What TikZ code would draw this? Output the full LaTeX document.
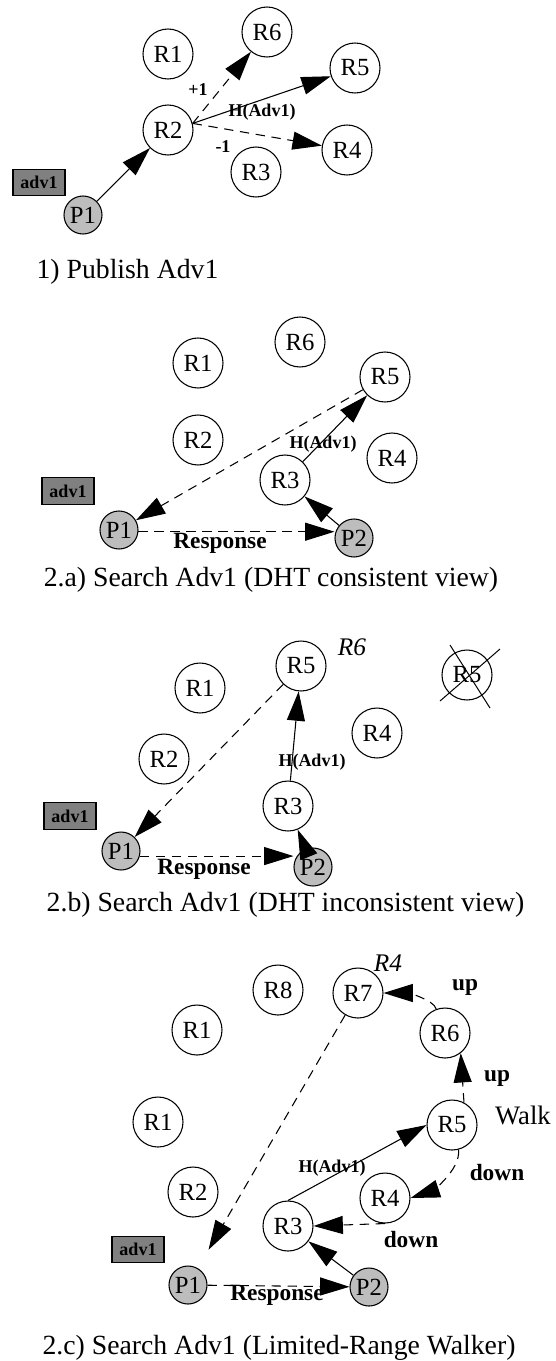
\documentclass[tikz,border=0pt]{standalone}
\usepackage{fontspec}
\setmainfont{Liberation Serif}
\usepackage{tikz}
\usetikzlibrary{arrows.meta}
\definecolor{peer}{HTML}{BDBDBD}
\definecolor{advgray}{HTML}{808080}

\begin{document}
\begin{tikzpicture}[yscale=-1, x=0.75pt, y=0.75pt,
  rnode/.style={circle, draw, line width=0.8pt, minimum size=37.5pt, inner sep=0pt, font=\fontsize{18.5}{20}\selectfont},
  pnode/.style={rnode, fill=peer, minimum size=28.5pt},
  advbox/.style={draw, line width=0.8pt, fill=advgray, minimum width=39pt, minimum height=20pt, inner sep=0pt, font=\fontsize{13.5}{15}\selectfont\bfseries},
  elbl/.style={font=\fontsize{13.5}{15}\selectfont\bfseries, inner sep=0pt},
  wlbl/.style={font=\fontsize{17.5}{19}\selectfont\bfseries, inner sep=0pt},
  ilbl/.style={font=\fontsize{19}{21}\selectfont\itshape, inner sep=0pt},
  caption/.style={font=\fontsize{20.8}{23}\selectfont, inner sep=0pt},
  hop/.style={-{Triangle[length=22pt,width=13.5pt]}, line width=0.8pt},
  dhop/.style={hop, dash pattern=on 7pt off 5pt}]
\useasboundingbox (0,0) rectangle (556,1361);

% 1) publish
\node[rnode] (pR1) at (168,54) {R1};
\node[rnode] (pR6) at (267,32) {R6};
\node[rnode] (pR5) at (355,68) {R5};
\node[rnode] (pR2) at (168,130) {R2};
\node[rnode] (pR4) at (347,150) {R4};
\node[rnode] (pR3) at (256,172) {R3};
\node[advbox] (pAdv) at (39,182.5) {adv1};
\node[pnode] (pP1) at (83,215) {P1};
\draw[hop] (pP1) -- (pR2);
\draw[dhop] (pR2.15) -- (pR6);
\draw[hop] (pR2.15) -- (pR5);
\draw[dhop] (pR2.15) -- (pR4);
\node[elbl] (pPlus) at (198,90) {+1};
\node[elbl] (pHash) at (262,112) {H(Adv1)};
\node[elbl] (pMinus) at (223,147) {-1};
\node[caption] (pCap) at (127.5,272) {1) Publish Adv1};

% 2.a) consistent view
\node[rnode] (cR6) at (300,342) {R6};
\node[rnode] (cR1) at (198,363) {R1};
\node[rnode] (cR5) at (385,377) {R5};
\node[rnode] (cR2) at (198,440) {R2};
\node[rnode] (cR4) at (392,458) {R4};
\node[rnode] (cR3) at (285,480) {R3};
\node[advbox] (cAdv) at (68,491) {adv1};
\node[pnode] (cP1) at (119,530) {P1};
\node[pnode] (cP2) at (354,538) {P2};
\draw[hop] (cP2) -- (cR3);
\draw[hop] (cR3) -- (cR5);
\draw[dhop] (cR5) -- (cP1);
\draw[dhop] (cP1.-5) -- (cP1.-5 -| cP2.west);
\node[elbl] (cHash) at (323,444) {H(Adv1)};
\node[wlbl] (cResp) at (220,543) {Response};
\node[caption] (cCap) at (271,580) {2.a) Search Adv1 (DHT consistent view)};

% 2.b) inconsistent view
\node[rnode] (iR5) at (301,666) {R5};
\node[ilbl] (iR6lbl) at (352,647) {R6};
\node[rnode] (iR1) at (200,688) {R1};
\node[rnode] (iGone) at (467,675) {R5};
\draw[line width=0.75pt] (450,645) -- (490,708) (440,701) -- (500,649);
\node[rnode] (iR4) at (377,733) {R4};
\node[rnode] (iR2) at (164,759) {R2};
\node[rnode] (iR3) at (288,806) {R3};
\node[advbox] (iAdv) at (70,816) {adv1};
\node[pnode] (iP1) at (121,851) {P1};
\node[pnode] (iP2) at (313,867) {P2};
\draw[hop] (iR3) -- (iR5);
\draw[hop] (iP2) -- (iR3);
\draw[dhop] (iR5) -- (iP1);
\draw[dhop] (iP1.-15) -- (iP1.-15 -| iP2.west);
\node[elbl] (iHash) at (312,762) {H(Adv1)};
\node[wlbl] (iResp) at (204,869) {Response};
\node[caption] (iCap) at (285.5,905) {2.b) Search Adv1 (DHT inconsistent view)};

% 2.c) walker
\node[rnode] (wR8) at (278,990) {R8};
\node[rnode] (wR7) at (358,993) {R7};
\node[ilbl] (wR4lbl) at (388,963) {R4};
\node[rnode] (wR1) at (197,1030) {R1};
\node[rnode] (wR6) at (445,1033) {R6};
\node[rnode] (wR1b) at (158,1122) {R1};
\node[rnode] (wR5) at (452,1125) {R5};
\node[rnode] (wR2) at (193,1192) {R2};
\node[rnode] (wR4) at (385,1198) {R4};
\node[rnode] (wR3) at (288,1226) {R3};
\node[advbox] (wAdv) at (138,1249.5) {adv1};
\node[pnode] (wP1) at (188,1285) {P1};
\node[pnode] (wP2) at (369,1287) {P2};
\draw[hop] (wR3.north) -- (wR5.west);
\draw[dhop] (wR5.62) -- (wR6.-52);
\draw[dhop] (wR6.110) .. controls +(-3,-10) and +(22,0) .. (wR7.east);
\draw[dhop] (wR5.-75) .. controls +(2,22) and +(18,-6) .. (wR4.east);
\draw[dhop] (wR4.south) -- (wR3.east);
\draw[hop] (wP2) -- (wR3);
\draw[dhop, shorten >=16pt] (wR7) -- (wP1);
\draw[dhop] (wP1) -- (wP2);
\node[wlbl] (wUp1) at (465,987) {up};
\node[wlbl] (wUp2) at (497,1078) {up};
\node[font=\fontsize{20}{22}\selectfont, inner sep=0pt] (wWalk) at (523,1115) {Walk};
\node[wlbl] (wDown1) at (497,1173) {down};
\node[wlbl] (wDown2) at (411,1240) {down};
\node[elbl] (wHash) at (332,1168) {H(Adv1)};
\node[wlbl] (wResp) at (277,1295) {Response};
\node[caption] (wCap) at (279,1348) {2.c) Search Adv1 (Limited-Range Walker)};
\end{tikzpicture}
\end{document}
